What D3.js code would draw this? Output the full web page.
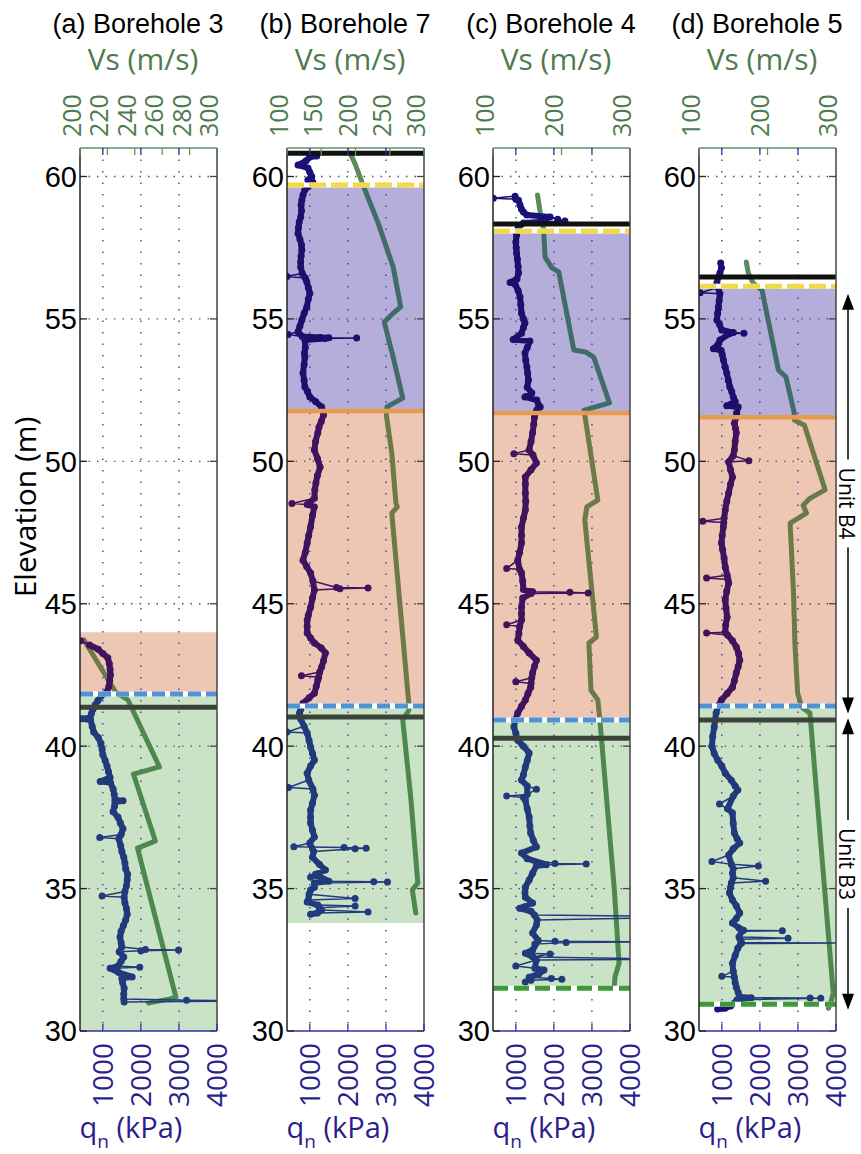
<!DOCTYPE html>
<html><head><meta charset="utf-8">
<script src="https://cdn.jsdelivr.net/npm/d3@7"></script>
<style>body{margin:0;background:#fff}svg{display:block}</style>
</head><body>
<svg id="chart" width="861" height="1154"></svg>
<script>
// ---------------- DATA ----------------
const panelTitles = ["(a) Borehole 3", "(b) Borehole 7", "(c) Borehole 4", "(d) Borehole 5"];
const elevTicks = [30, 35, 40, 45, 50, 55, 60];
const elevDomain = [30, 61];
const qnTicks = [1000, 2000, 3000, 4000];
const qnDomain = [400, 4000];
const vsTicksA = [200, 220, 240, 260, 280, 300];
const vsTicksB = [100, 150, 200, 250, 300];
const vsTicksC = [100, 200, 300];
const vsTicksD = [100, 200, 300];
const vsDomainA = [200, 300];
const vsDomainB = [100, 300];
const vsDomainC = [100, 300];
const vsDomainD = [100, 300];

// layer bands: [top elevation, bottom elevation, unit]
const layersA = [[61, 44.0, "none"], [44.0, 41.83, "salmon"], [41.83, 30, "green"]];
const layersB = [[61, 59.7, "none"], [59.7, 51.77, "purple"], [51.77, 41.41, "salmon"], [41.41, 33.79, "green"], [33.79, 30, "none"]];
const layersC = [[61, 58.09, "none"], [58.09, 51.7, "purple"], [51.7, 40.92, "salmon"], [40.92, 31.5, "green"], [31.5, 30, "none"]];
const layersD = [[61, 56.15, "none"], [56.15, 51.55, "purple"], [51.55, 41.41, "salmon"], [41.41, 30.94, "green"], [30.94, 30, "none"]];

// boundary lines: [elevation, kind]
const contactsA = [[41.83, "blue"], [41.37, "black"]];
const contactsB = [[60.82, "black"], [59.7, "yellow"], [51.77, "orange"], [41.41, "blue"], [41.02, "black"]];
const contactsC = [[58.33, "black"], [58.09, "yellow"], [51.7, "orange"], [40.92, "blue"], [40.28, "black"], [31.5, "green"]];
const contactsD = [[56.47, "black"], [56.15, "yellow"], [51.55, "orange"], [41.41, "blue"], [40.92, "black"], [30.94, "green"]];

// q_n profiles: [elevation (m), q_n (kPa)]
const qnA = [[43.70,420],[43.55,650],[43.40,880],[43.25,1000],[43.10,1130],[42.90,1170],[42.70,1190],[42.50,1200],[42.30,1180],[42.10,1160],[41.90,1100],[41.75,950],[41.60,870],[41.45,800],[41.30,740],[41.15,700],[41.00,660],[40.96,450],[40.92,680],[40.70,720],[40.50,760],[40.30,880],[40.10,950],[39.90,980],[39.70,1000],[39.50,1060],[39.30,1110],[39.10,1150],[38.90,1190],[38.76,930],[38.72,1200],[38.50,1270],[38.30,1300],[38.12,1320],[38.08,1530],[38.04,1320],[37.90,1310],[37.70,1270],[37.50,1400],[37.30,1460],[37.10,1530],[36.90,1480],[36.79,920],[36.75,1420],[36.50,1470],[36.30,1500],[36.10,1550],[35.90,1580],[35.70,1600],[35.50,1650],[35.30,1640],[35.10,1620],[34.90,1580],[34.74,980],[34.70,1560],[34.50,1580],[34.30,1620],[34.10,1640],[33.90,1600],[33.70,1540],[33.50,1480],[33.30,1450],[33.10,1480],[32.95,1500],[32.86,2120],[32.84,2990],[32.82,2000],[32.78,1430],[32.60,1550],[32.45,1480],[32.28,1400],[32.24,1970],[32.20,1190],[32.05,1420],[31.90,1770],[31.85,1500],[31.70,1520],[31.50,1560],[31.30,1550],[31.12,1550],[31.08,3200],[31.06,5000],[31.02,1560]];
const qnB = [[60.72,1180],[60.68,1000],[60.55,900],[60.40,690],[60.30,950],[60.15,1000],[60.00,1050],[59.88,950],[59.80,1080],[59.65,960],[59.53,870],[59.35,820],[59.17,790],[59.00,770],[58.80,780],[58.58,760],[58.40,720],[58.20,700],[58.00,690],[57.80,740],[57.60,780],[57.42,790],[57.20,770],[57.00,760],[56.82,760],[56.60,800],[56.49,400],[56.44,880],[56.30,920],[56.10,960],[55.90,1000],[55.70,960],[55.42,920],[55.20,850],[54.96,790],[54.75,740],[54.55,690],[54.45,430],[54.38,800],[54.35,1270],[54.34,1500],[54.33,2230],[54.31,1400],[54.26,870],[54.00,880],[53.80,860],[53.66,870],[53.40,850],[53.10,820],[52.85,850],[52.61,870],[52.45,940],[52.26,1000],[52.10,1150],[51.91,1310],[51.78,1330],[51.63,1360],[51.40,1300],[51.20,1240],[51.00,1210],[50.70,1150],[50.40,1120],[50.10,1200],[49.80,1270],[49.50,1200],[49.24,1160],[49.00,1130],[48.70,1120],[48.52,530],[48.48,930],[48.40,1120],[48.10,1070],[47.70,1020],[47.40,970],[47.13,930],[46.80,880],[46.53,820],[46.30,920],[46.08,1020],[45.80,1080],[45.57,1700],[45.55,2530],[45.53,1790],[45.48,1120],[45.20,1070],[44.88,1020],[44.60,960],[44.43,930],[44.20,930],[43.97,930],[43.80,1020],[43.62,1120],[43.45,1300],[43.27,1410],[43.00,1360],[42.78,1310],[42.60,1260],[42.47,780],[42.42,1230],[42.32,1210],[42.10,1170],[41.86,1120],[41.70,980],[41.51,820],[41.30,760],[41.16,730],[40.95,760],[40.70,850],[40.50,400],[40.46,930],[40.20,980],[39.97,1020],[39.75,1070],[39.51,1120],[39.30,1020],[39.05,930],[38.81,970],[38.55,440],[38.50,1080],[38.28,1120],[38.00,1070],[37.76,1020],[37.50,1020],[37.30,1020],[37.05,1070],[36.81,1120],[36.60,1000],[36.47,580],[36.44,1900],[36.42,2480],[36.40,2190],[36.30,1100],[36.10,1070],[35.85,1250],[35.65,1410],[35.50,1150],[35.40,1020],[35.26,1500],[35.24,2680],[35.23,3040],[35.20,1120],[35.05,1120],[34.95,1020],[34.80,980],[34.65,2190],[34.60,960],[34.53,930],[34.42,1210],[34.39,2190],[34.33,1250],[34.25,1310],[34.18,2530],[34.14,1200],[34.10,1020]];
const qnC = [[59.31,980],[59.24,410],[59.20,1000],[59.17,1070],[59.00,1110],[58.85,1150],[58.75,1200],[58.65,1290],[58.58,1900],[58.50,2100],[58.44,2290],[58.40,1640],[58.37,1200],[58.20,1060],[57.95,1020],[57.70,1000],[57.50,1010],[57.31,1020],[57.10,1040],[56.85,1060],[56.61,1070],[56.40,1030],[56.28,850],[56.22,980],[56.00,1060],[55.77,1110],[55.50,1130],[55.20,1150],[55.00,1200],[54.86,1240],[54.70,1200],[54.50,1150],[54.28,930],[54.22,1370],[54.00,1300],[53.80,1240],[53.55,1260],[53.31,1290],[53.10,1310],[52.85,1330],[52.60,1300],[52.40,1420],[52.26,1240],[52.15,1550],[51.98,1600],[51.91,1640],[51.80,1550],[51.56,1490],[51.30,1470],[51.00,1440],[50.70,1400],[50.40,1350],[50.27,950],[50.22,1450],[49.94,1540],[49.70,1400],[49.45,1250],[49.20,1250],[48.89,1250],[48.60,1260],[48.29,1250],[48.00,1200],[47.69,1150],[47.40,1150],[47.13,1150],[46.80,1100],[46.53,1050],[46.24,760],[46.20,1100],[46.08,1150],[45.80,1180],[45.50,1200],[45.42,1440],[45.40,2420],[45.38,2900],[45.36,1400],[45.20,1180],[44.88,1150],[44.65,1150],[44.43,1150],[44.26,760],[44.20,1100],[43.95,1080],[43.73,1050],[43.50,1200],[43.27,1350],[43.02,1540],[42.80,1490],[42.57,1440],[42.40,1420],[42.26,1000],[42.20,1400],[42.07,1390],[41.85,1320],[41.62,1250],[41.40,1150],[41.16,1050],[40.90,980],[40.67,950],[40.45,1000],[40.21,1050],[40.00,1200],[39.76,1350],[39.50,1300],[39.27,1250],[39.00,1200],[38.81,1150],[38.60,1300],[38.49,1540],[38.30,1300],[38.25,760],[38.20,1200],[38.11,1250],[37.80,1300],[37.51,1350],[37.20,1370],[36.95,1390],[36.70,1460],[36.46,1540],[36.25,1150],[36.05,1300],[35.88,2030],[35.86,2850],[35.84,1800],[35.80,1540],[35.54,1440],[35.30,1350],[35.05,1250],[34.85,1240],[34.70,1250],[34.49,1440],[34.31,1100],[34.20,1400],[34.07,1490],[34.02,5000],[33.98,5000],[33.90,1560],[33.72,1540],[33.44,1440],[33.18,1590],[33.15,2030],[33.13,5000],[33.11,2320],[33.05,1500],[32.84,1440],[32.73,1250],[32.70,1900],[32.60,1450],[32.52,5000],[32.49,1540],[32.28,1000],[32.20,1500],[32.14,1740],[32.00,1600],[31.89,1350],[31.84,1930],[31.82,2210],[31.78,1400],[31.72,1250]];
const qnD = [[56.96,970],[56.80,990],[56.61,950],[56.45,900],[56.26,870],[56.10,900],[55.92,430],[55.88,950],[55.65,930],[55.42,910],[55.20,890],[54.96,870],[54.80,940],[54.61,1000],[54.52,1300],[54.50,1580],[54.48,1200],[54.26,950],[54.10,900],[53.95,780],[53.90,980],[53.75,1010],[53.56,1040],[53.30,1090],[53.10,1130],[52.85,1170],[52.61,1210],[52.45,1260],[52.26,1300],[52.10,1350],[51.95,1130],[51.91,1430],[51.70,1390],[51.50,1360],[51.34,1330],[51.15,1360],[51.00,1380],[50.70,1350],[50.40,1330],[50.20,1300],[50.02,1710],[49.98,1180],[49.70,1230],[49.45,1280],[49.20,1230],[48.89,1180],[48.60,1130],[48.29,1090],[48.00,1060],[47.90,500],[47.85,1050],[47.69,1040],[47.40,1010],[47.13,990],[46.90,1020],[46.60,1060],[46.29,1090],[46.00,1140],[45.90,600],[45.85,1160],[45.73,1180],[45.45,1130],[45.13,1090],[44.85,1110],[44.53,1140],[44.25,1100],[44.00,1090],[43.97,600],[43.90,1150],[43.70,1280],[43.48,1380],[43.25,1440],[43.02,1470],[42.80,1430],[42.57,1380],[42.30,1330],[42.07,1280],[41.85,1140],[41.62,990],[41.40,900],[41.16,850],[40.90,820],[40.67,800],[40.35,760],[40.00,740],[39.75,800],[39.51,890],[39.30,1000],[39.05,1090],[38.80,1250],[38.60,1350],[38.46,1420],[38.25,1300],[37.97,940],[37.80,1150],[37.65,1280],[37.30,1300],[36.95,1330],[36.75,1400],[36.60,1470],[36.40,1300],[36.18,1180],[35.95,740],[35.85,1250],[35.79,1960],[35.70,1300],[35.54,1280],[35.38,1300],[35.26,2150],[35.20,1250],[35.05,1230],[34.85,1200],[34.60,1280],[34.40,1380],[34.14,1470],[33.95,1380],[33.79,1280],[33.62,1450],[33.54,1570],[33.52,2590],[33.50,1520],[33.30,1450],[33.26,2740],[33.22,1480],[33.10,1520],[33.09,4300],[33.07,1500],[32.91,1420],[32.65,1350],[32.38,1280],[32.10,1300],[31.92,1000],[31.89,1330],[31.70,1350],[31.54,1380],[31.35,1430],[31.19,1470],[31.17,1770],[31.16,3320],[31.15,3600],[31.10,1400],[30.98,1330],[30.88,1230],[30.80,1080],[30.77,890]];

// Vs profiles: [elevation (m), Vs (m/s)]
const vsA = [[43.72,203],[41.90,226],[41.75,231],[41.62,235],[39.27,258],[39.02,239],[36.67,255],[36.42,242],[31.19,270],[31.12,265],[31.05,257],[30.98,250]];
const vsB = [[60.82,192],[60.47,199],[59.70,211],[58.37,233],[56.82,255],[55.42,266],[55.20,255],[54.89,242],[53.66,255],[52.22,269],[51.91,246],[51.63,245],[50.29,253],[48.53,259],[48.40,261],[48.18,253],[41.44,278],[41.27,278],[40.92,269],[38.11,281],[35.19,291],[35.05,286],[34.95,283],[34.14,288]];
const vsC = [[59.35,165],[58.72,169],[58.12,174],[57.17,176],[56.79,186],[56.65,196],[53.91,218],[53.84,235],[53.66,247],[52.05,270],[51.80,233],[51.63,234],[48.64,253],[48.40,237],[47.94,234],[43.83,251],[43.62,240],[41.97,243],[41.62,253],[40.92,256],[35.00,277],[32.38,284],[31.89,278],[31.54,277]];
const vsD = [[57.00,169],[56.61,172],[56.26,179],[56.01,192],[53.20,216],[52.96,227],[51.70,239],[51.45,239],[51.27,254],[49.00,284],[48.70,262],[48.46,252],[48.18,257],[47.83,233],[45.37,238],[43.60,240],[41.86,244],[41.37,250],[41.16,262],[31.33,296],[30.95,292],[30.80,289]];

// unit annotations: [label, top elevation, bottom elevation]
const unitLabels = [["Unit B4", 55.88, 41.15], ["Unit B3", 40.98, 30.75]];

// ---------------- LAYOUT / STYLE ----------------
const panels = [
  {title: panelTitles[0], layers: layersA, contacts: contactsA, qn: qnA, vs: vsA, vsDomain: vsDomainA, vsTicks: vsTicksA},
  {title: panelTitles[1], layers: layersB, contacts: contactsB, qn: qnB, vs: vsB, vsDomain: vsDomainB, vsTicks: vsTicksB},
  {title: panelTitles[2], layers: layersC, contacts: contactsC, qn: qnC, vs: vsC, vsDomain: vsDomainC, vsTicks: vsTicksC},
  {title: panelTitles[3], layers: layersD, contacts: contactsD, qn: qnD, vs: vsD, vsDomain: vsDomainD, vsTicks: vsTicksD}
];
const panelLefts = [80, 287, 493, 699];
const panelW = 137;
const plotTop = 148, plotBottom = 1031;

const fillColor = {none: "none", purple: "#b5aedb", salmon: "#edc6b4", green: "#cae3c6"};
const qnColor = {none: "#1b1279", purple: "#1f0f6c", salmon: "#40135f", green: "#203a7b"};
const vsColor = {none: "#5b8a5b", purple: "#416c68", salmon: "#6b7a46", green: "#4e884e"};
const GREEN_TXT = "#4f7a4f";
const BLUE_TXT = "#2c1f8c";

const svg = d3.select("#chart");
const defs = svg.append("defs");
const y = d3.scaleLinear().domain(elevDomain).range([plotBottom, plotTop]);

// points lying on the main trace (not on an isolated excursion), found with a running median
function tracePoints(data) {
  return data.filter((d, k) => {
    const win = data.slice(Math.max(0, k - 3), k + 4).map(e => e[1]);
    return Math.abs(d[1] - d3.median(win)) < 330;
  });
}

panels.forEach((p, i) => {
  const L = panelLefts[i], R = L + panelW;
  const xq = d3.scaleLinear().domain(qnDomain).range([L, R]);
  const xv = d3.scaleLinear().domain(p.vsDomain).range([L, R]);
  const g = svg.append("g");

  // fills
  p.layers.forEach(([t, b, u]) => {
    if (u === "none") return;
    g.append("rect").attr("x", L).attr("y", y(t)).attr("width", panelW)
      .attr("height", y(b) - y(t)).attr("fill", fillColor[u]);
  });

  // grid
  qnTicks.filter(v => v < qnDomain[1]).forEach(v => {
    g.append("line").attr("x1", xq(v)).attr("x2", xq(v)).attr("y1", plotTop).attr("y2", plotBottom)
      .attr("stroke", "#3a2ea5").attr("stroke-width", 1.3).attr("stroke-dasharray", "1.5,10");
  });
  elevTicks.filter(v => v > elevDomain[0]).forEach(v => {
    g.append("line").attr("x1", L).attr("x2", R).attr("y1", y(v)).attr("y2", y(v))
      .attr("stroke", "#555").attr("stroke-width", 1.3).attr("stroke-dasharray", "1.5,7");
  });

  // series clipped in each band with band colour
  const lineVs = d3.line().x(d => xv(d[1])).y(d => y(d[0]));
  const lineQn = d3.line().x(d => xq(d[1])).y(d => y(d[0]));
  const trace = tracePoints(p.qn);
  p.layers.forEach(([t, b, u], j) => {
    const id = `clip-${i}-${j}`;
    defs.append("clipPath").attr("id", id).append("rect")
      .attr("x", L).attr("y", y(t)).attr("width", panelW).attr("height", y(b) - y(t));
    const gb = g.append("g").attr("clip-path", `url(#${id})`);
    gb.append("path").datum(p.vs).attr("d", lineVs).attr("fill", "none")
      .attr("stroke", vsColor[u]).attr("stroke-width", 5)
      .attr("stroke-linejoin", "round").attr("stroke-linecap", "round");
    gb.append("path").datum(trace).attr("d", lineQn).attr("fill", "none")
      .attr("stroke", qnColor[u]).attr("stroke-width", 6)
      .attr("stroke-linejoin", "round").attr("stroke-linecap", "round");
    gb.append("path").datum(p.qn).attr("d", lineQn).attr("fill", "none")
      .attr("stroke", qnColor[u]).attr("stroke-width", 1.5).attr("stroke-linejoin", "round");
    gb.selectAll("circle").data(p.qn).join("circle")
      .attr("cx", d => xq(d[1])).attr("cy", d => y(d[0])).attr("r", 3.5)
      .attr("fill", qnColor[u]);
  });

  // contacts
  const unitAt = e => { const l = p.layers.find(([t, b]) => e <= t && e >= b); return l ? l[2] : "none"; };
  p.contacts.forEach(([e, kind]) => {
    const yy = y(e);
    const ln = () => g.append("line").attr("x1", L).attr("x2", R).attr("y1", yy).attr("y2", yy);
    if (kind === "black") {
      ln().attr("stroke", unitAt(e + 0.05) === "none" ? "#111" : "#3a423a").attr("stroke-width", 5);
    } else if (kind === "orange") {
      ln().attr("stroke", "#e79b4f").attr("stroke-width", 4.5);
    } else {
      const col = {yellow: "#f1da46", blue: "#4f93d6", green: "#3e9a38"}[kind];
      const dash = {yellow: "17,5", blue: "13,5", green: "15,6"}[kind];
      ln().attr("stroke", "#fff").attr("stroke-width", 5);
      ln().attr("stroke", col).attr("stroke-width", 5).attr("stroke-dasharray", dash);
    }
  });

  // frame
  g.append("line").attr("x1", L).attr("x2", L).attr("y1", plotTop).attr("y2", plotBottom).attr("stroke", "#222").attr("stroke-width", 1.5);
  g.append("line").attr("x1", R).attr("x2", R).attr("y1", plotTop).attr("y2", plotBottom).attr("stroke", "#444").attr("stroke-width", 1.5);
  g.append("line").attr("x1", L).attr("x2", R).attr("y1", plotTop).attr("y2", plotTop).attr("stroke", "#6a8f6a").attr("stroke-width", 1.5);
  g.append("line").attr("x1", L).attr("x2", R).attr("y1", plotBottom).attr("y2", plotBottom).attr("stroke", "#3a2ea5").attr("stroke-width", 1.5);

  // ticks
  elevTicks.forEach(v => {
    g.append("line").attr("x1", L).attr("x2", L + 7).attr("y1", y(v)).attr("y2", y(v)).attr("stroke", "#222").attr("stroke-width", 1.3);
    g.append("line").attr("x1", R - 7).attr("x2", R).attr("y1", y(v)).attr("y2", y(v)).attr("stroke", "#444").attr("stroke-width", 1.3);
    g.append("text").attr("x", L - 3).attr("y", y(v)).attr("dy", "0.36em").attr("text-anchor", "end")
      .attr("font-family", "Liberation Sans, Arial, sans-serif").attr("font-size", 29).attr("fill", "#000").text(v);
  });
  qnTicks.forEach(v => {
    g.append("line").attr("x1", xq(v)).attr("x2", xq(v)).attr("y1", plotBottom).attr("y2", plotBottom - 7).attr("stroke", "#3a2ea5").attr("stroke-width", 1.3);
    g.append("line").attr("x1", xq(v)).attr("x2", xq(v)).attr("y1", plotTop).attr("y2", plotTop + 7).attr("stroke", "#3a2ea5").attr("stroke-width", 1.3);
    g.append("text").attr("transform", `translate(${xq(v)},1043) rotate(-90)`).attr("dy", "0.36em")
      .attr("text-anchor", "end").attr("font-family", "Open Sans, sans-serif").attr("font-size", 28)
      .attr("fill", BLUE_TXT).text(v);
  });
  p.vsTicks.forEach(v => {
    g.append("line").attr("x1", xv(v)).attr("x2", xv(v)).attr("y1", plotTop).attr("y2", plotTop + 7).attr("stroke", "#6a8f6a").attr("stroke-width", 1.3);
    g.append("text").attr("transform", `translate(${xv(v) + 1},137) rotate(-90)`)
      .attr("text-anchor", "start").attr("font-family", "Open Sans, sans-serif").attr("font-size", 25)
      .attr("fill", GREEN_TXT).text(v);
  });

  // titles & axis labels
  svg.append("text").attr("x", L + 58).attr("y", 33).attr("text-anchor", "middle")
    .attr("font-family", "Liberation Sans, Arial, sans-serif").attr("font-size", 27).attr("fill", "#000").text(p.title);
  svg.append("text").attr("x", L + 63).attr("y", 70).attr("text-anchor", "middle")
    .attr("font-family", "Open Sans, sans-serif").attr("font-size", 30).attr("fill", GREEN_TXT).text("Vs (m/s)");
  const ql = svg.append("text").attr("x", L + 51).attr("y", 1138).attr("text-anchor", "middle")
    .attr("font-family", "Open Sans, sans-serif").attr("font-size", 29).attr("fill", BLUE_TXT);
  ql.append("tspan").text("q");
  ql.append("tspan").attr("font-size", 19).attr("dy", 10).text("n");
  ql.append("tspan").attr("dy", -10).text(" (kPa)");
});

// y axis title
svg.append("text").attr("transform", "translate(36,507) rotate(-90)").attr("text-anchor", "middle")
  .attr("font-family", "Open Sans, sans-serif").attr("font-size", 30).attr("fill", "#000").text("Elevation (m)");

// unit annotations on the right
const ax = 848;
unitLabels.forEach(([label, top, bot]) => {
  const y1 = y(top), y2 = y(bot), ym = (y1 + y2) / 2;
  const half = 44;
  svg.append("line").attr("x1", ax).attr("x2", ax).attr("y1", y1 + 12).attr("y2", ym - half).attr("stroke", "#000").attr("stroke-width", 1.5);
  svg.append("line").attr("x1", ax).attr("x2", ax).attr("y1", ym + half).attr("y2", y2 - 12).attr("stroke", "#000").attr("stroke-width", 1.5);
  svg.append("path").attr("d", `M${ax},${y1} L${ax - 6},${y1 + 16} L${ax + 6},${y1 + 16} Z`).attr("fill", "#000");
  svg.append("path").attr("d", `M${ax},${y2} L${ax - 6},${y2 - 16} L${ax + 6},${y2 - 16} Z`).attr("fill", "#000");
  svg.append("text").attr("transform", `translate(${ax - 9},${ym}) rotate(90)`).attr("text-anchor", "middle")
    .attr("font-family", "Open Sans, sans-serif").attr("font-size", 21).attr("fill", "#000").text(label);
});
</script>
</body></html>
